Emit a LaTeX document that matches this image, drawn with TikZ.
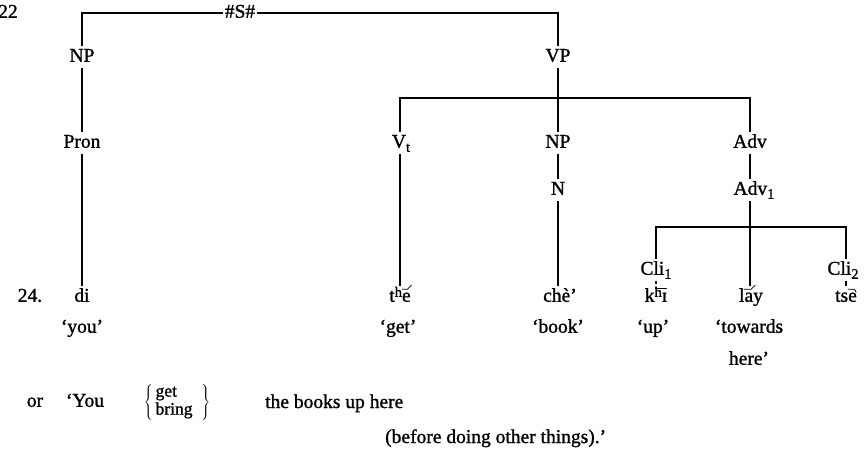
\documentclass[tikz,border=0pt]{standalone}
\usepackage{fontspec}
\setmainfont[FakeBold=1.2]{Liberation Serif}
\newcommand\lowsub[1]{\raisebox{-0.45ex}{\fontsize{14.5}{15}\selectfont #1}}
\newcommand\highsup[1]{\raisebox{0.55ex}{\fontsize{14.5}{15}\selectfont #1}}

\tikzset{
  lbl/.style={font=\fontsize{19.5}{22}\selectfont, inner sep=2pt, text height=13.5pt, text depth=4pt},
  txt/.style={font=\fontsize{19.5}{22}\selectfont, inner sep=0pt, anchor=base west},
  branch/.style={line width=1.1pt, black},
  tone/.style={line width=0.8pt, line cap=round}
}

\begin{document}
\begin{tikzpicture}[x=1pt, y=-1pt]
    \useasboundingbox (0,0) rectangle (865,469);
    % labels of the tree
    \node[lbl] (ex22) at (8,13) {22};
    \node[lbl] (s) at (240,13) {\#S\#};
    \node[lbl] (np1) at (82,57) {NP};
    \node[lbl] (vp) at (558,57) {VP};
    \node[lbl] (pron) at (82,143) {Pron};
    \node[lbl] (vt) at (401,143) {V\lowsub{t}};
    \node[lbl] (np2) at (558,143) {NP};
    \node[lbl] (adv) at (750,143) {Adv};
    \node[lbl] (n) at (558,190) {N};
    \node[lbl] (adv1) at (754,190) {Adv\lowsub{1}};
    \node[lbl] (cli1) at (656,270) {Cli\lowsub{1}};
    \node[lbl] (cli2) at (843,270) {Cli\lowsub{2}};
    % words
    \node[lbl] (ex24) at (30,297) {24.};
    \node[lbl] (di) at (82,297) {di};
    \node[lbl] (the) at (400,297) {t\highsup{h}e};
    \node[lbl] (che) at (560,297) {chè'};
    \node[lbl] (khi) at (656,297) {k\highsup{h}ɪ};
    \node[lbl] (lay) at (751,297) {lay};
    \node[lbl] (tse) at (846,297) {tse};
    % glosses
    \node[lbl] (you) at (82,328) {`you'};
    \node[lbl] (get) at (398,328) {`get'};
    \node[lbl] (book) at (558,328) {`book'};
    \node[lbl] (up) at (653,328) {`up'};
    \node[lbl] (towards) at (749,328) {`towards};
    \node[lbl] (here) at (749,360) {here'};
    % free translation
    \node[lbl] (or) at (35,402) {or};
    \node[lbl] (You) at (85,402) {`You};
    \node[lbl, text height=, text depth=] (choice) at (177,402) {$\left\{\vcenter{\hbox{\fontsize{17.5}{18}\selectfont\begin{tabular}{@{\,}l@{\ \ }}get\\bring\end{tabular}}}\right\}$};
    \node[txt] (rest1) at (265,408) {the books up here};
    \node[txt] (rest2) at (385,443) {(before doing other things).'};

    \coordinate (vpbar) at (558,98); % VP bar
    \coordinate (advbar) at (750,227); % Adv1 bar

    \draw[branch] (np1) |- (s.west);
    \draw[branch] (s.east) -| (vp);
    \draw[branch] (np1) -- (pron);
    \draw[branch] (pron) -- (di);
    \draw[branch] (vt.north -| the) |- (vpbar) -| (adv);
    \draw[branch] (vp) -- (np2);
    \draw[branch] (vt.south -| the) -- (the);
    \draw[branch] (np2) -- (n);
    \draw[branch] (n) -- (n |- che.north);
    \draw[branch] (adv) -- (adv |- adv1.north);
    \draw[branch] (adv |- adv1.south) -- (adv |- lay.north);
    \draw[branch] (cli1.north -| khi) |- (advbar) -| (cli2.north -| tse);
    \draw[branch] (cli1.south -| khi) -- ([yshift=2pt]khi.north);
    \draw[branch] (cli2.south -| tse) -- (tse);

    % tone marks
    \draw[tone] ([shift={(-10.5pt,12.5pt)}]the.base east) -- ++(5pt,0) -- ++(4pt,4pt);
    \draw[tone] ([shift={(-14pt,13pt)}]khi.base east) -- ++(11pt,0);
    \draw[tone] ([shift={(-21pt,12.5pt)}]lay.base east) -- ++(7pt,0) -- ++(4pt,4pt);
    \draw[tone] ([shift={(-11pt,12.5pt)}]tse.base east) -- ++(5pt,0) arc[start angle=90, end angle=0, radius=3pt];
  \end{tikzpicture}
\end{document}
